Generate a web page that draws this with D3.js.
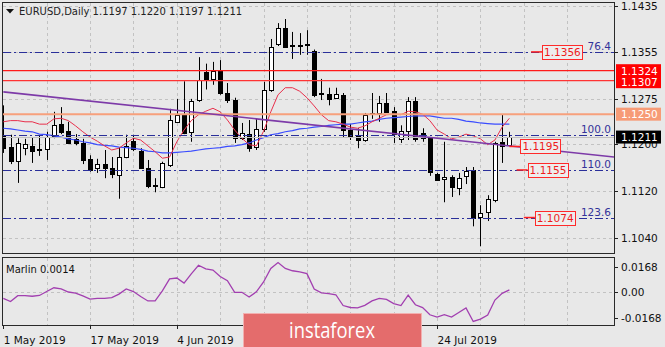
<!DOCTYPE html>
<html>
<head>
<meta charset="utf-8">
<script src="https://cdn.jsdelivr.net/npm/d3@7"></script>
<style>
  html, body { margin: 0; padding: 0; background: #e8e8e8; }
  svg { display: block; font-family: "DejaVu Sans", sans-serif; }
</style>
</head>
<body>
<svg id="chart" width="665" height="347"></svg>
<script>
// EURUSD daily bars, 1 May – 7 Aug 2019
const dates = [
  "2019-05-01","2019-05-02","2019-05-03","2019-05-06","2019-05-07","2019-05-08","2019-05-09","2019-05-10",
  "2019-05-13","2019-05-14","2019-05-15","2019-05-16","2019-05-17","2019-05-20","2019-05-21","2019-05-22",
  "2019-05-23","2019-05-24","2019-05-27","2019-05-28","2019-05-29","2019-05-30","2019-05-31",
  "2019-06-03","2019-06-04","2019-06-05","2019-06-06","2019-06-07","2019-06-10","2019-06-11","2019-06-12",
  "2019-06-13","2019-06-14","2019-06-17","2019-06-18","2019-06-19","2019-06-20","2019-06-21","2019-06-24",
  "2019-06-25","2019-06-26","2019-06-27","2019-06-28",
  "2019-07-01","2019-07-02","2019-07-03","2019-07-04","2019-07-05","2019-07-08","2019-07-09","2019-07-10",
  "2019-07-11","2019-07-12","2019-07-15","2019-07-16","2019-07-17","2019-07-18","2019-07-19","2019-07-22",
  "2019-07-23","2019-07-24","2019-07-25","2019-07-26","2019-07-29","2019-07-30","2019-07-31",
  "2019-08-01","2019-08-02","2019-08-05","2019-08-06","2019-08-07"
];
const open = [
  1.1215,1.1194,1.1170,1.1193,1.1196,1.1190,1.1191,1.1213,1.1233,1.1221,1.1208,1.1201,1.1174,1.1158,1.1165,1.1158,
  1.1146,1.1177,1.1204,1.1187,1.1158,1.1130,1.1126,1.1163,1.1237,1.1249,1.1220,1.1274,1.1322,1.1310,1.1325,
  1.1286,1.1274,1.1209,1.1216,1.1194,1.1225,1.1291,1.1369,1.1397,1.1366,1.1368,1.1368,
  1.1358,1.1285,1.1284,1.1277,1.1283,1.1223,1.1213,1.1206,1.1251,1.1252,1.1269,1.1255,1.1208,1.1221,1.1272,1.1218,
  1.1209,1.1148,1.1140,1.1143,1.1124,1.1145,1.1155,1.1075,1.1084,1.1103,1.1202,1.1197
];
const high = [
  1.1265,1.1215,1.1209,1.1208,1.1211,1.1213,1.1220,1.1254,1.1262,1.1237,1.1216,1.1208,1.1180,1.1174,1.1189,1.1177,
  1.1194,1.1215,1.1215,1.1192,1.1172,1.1141,1.1169,1.1259,1.1276,1.1306,1.1276,1.1347,1.1336,1.1339,1.1342,
  1.1303,1.1278,1.1235,1.1240,1.1243,1.1305,1.1378,1.1405,1.1412,1.1390,1.1388,1.1393,
  1.1360,1.1310,1.1295,1.1295,1.1286,1.1233,1.1226,1.1252,1.1286,1.1281,1.1286,1.1262,1.1231,1.1279,1.1279,1.1226,
  1.1211,1.1150,1.1203,1.1146,1.1150,1.1160,1.1160,1.1095,1.1112,1.1203,1.1249,1.1220
];
const low = [
  1.1184,1.1165,1.1133,1.1180,1.1167,1.1179,1.1172,1.1209,1.1216,1.1199,1.1197,1.1165,1.1152,1.1150,1.1141,1.1141,
  1.1106,1.1175,1.1187,1.1157,1.1124,1.1117,1.1124,1.1160,1.1235,1.1216,1.1203,1.1271,1.1292,1.1300,1.1283,
  1.1269,1.1201,1.1206,1.1186,1.1189,1.1220,1.1288,1.1366,1.1363,1.1344,1.1351,1.1351,
  1.1279,1.1274,1.1265,1.1276,1.1211,1.1206,1.1192,1.1203,1.1242,1.1237,1.1252,1.1201,1.1201,1.1206,1.1203,1.1203,
  1.1145,1.1138,1.1100,1.1109,1.1112,1.1131,1.1059,1.1025,1.1068,1.1100,1.1167,1.1197
];
const close = [
  1.1192,1.1170,1.1201,1.1199,1.1187,1.1191,1.1211,1.1231,1.1220,1.1201,1.1201,1.1172,1.1155,1.1165,1.1158,1.1148,
  1.1177,1.1196,1.1191,1.1158,1.1128,1.1129,1.1167,1.1240,1.1249,1.1218,1.1272,1.1308,1.1308,1.1324,1.1286,
  1.1274,1.1209,1.1218,1.1192,1.1225,1.1291,1.1364,1.1397,1.1364,1.1368,1.1368,1.1370,
  1.1283,1.1286,1.1276,1.1284,1.1223,1.1211,1.1206,1.1249,1.1252,1.1269,1.1254,1.1216,1.1221,1.1272,1.1208,1.1209,
  1.1152,1.1138,1.1143,1.1126,1.1141,1.1153,1.1073,1.1082,1.1106,1.1201,1.1196,1.1211
];

// Fast (red) and slow (blue) moving averages
const maFast = [
  1.1237,1.1239,1.1239,1.1237,1.1237,1.1233,1.1233,1.1242,1.1243,1.1239,1.1230,1.1220,1.1211,1.1204,1.1196,1.1189,
  1.1192,1.1201,1.1209,1.1206,1.1196,1.1186,1.1175,1.1177,1.1203,1.1223,1.1239,1.1249,1.1255,1.1260,1.1254,
  1.1240,1.1223,1.1209,1.1198,1.1196,1.1221,1.1254,1.1283,1.1295,1.1295,1.1289,1.1278,
  1.1264,1.1249,1.1239,1.1237,1.1233,1.1228,1.1226,1.1230,1.1237,1.1243,1.1249,1.1250,1.1249,1.1255,1.1254,1.1250,
  1.1239,1.1223,1.1216,1.1208,1.1211,1.1216,1.1213,1.1208,1.1198,1.1206,1.1228,1.1243
];
const maSlow = [
  1.1226,1.1225,1.1223,1.1221,1.1220,1.1216,1.1215,1.1213,1.1211,1.1208,1.1206,1.1203,1.1201,1.1198,1.1197,1.1196,
  1.1194,1.1193,1.1192,1.1190,1.1187,1.1186,1.1184,1.1184,1.1185,1.1186,1.1187,1.1189,1.1191,1.1192,1.1193,
  1.1195,1.1196,1.1198,1.1201,1.1206,1.1210,1.1215,1.1217,1.1220,1.1222,1.1225,1.1226,
  1.1228,1.1229,1.1231,1.1232,1.1233,1.1233,1.1235,1.1237,1.1238,1.1241,1.1243,1.1244,1.1245,1.1246,1.1247,1.1247,
  1.1247,1.1245,1.1243,1.1243,1.1241,1.1238,1.1237,1.1235,1.1234,1.1233,1.1233,1.1233
];

// Marlin oscillator
const marlin = [
  -0.0042,-0.0063,-0.0024,-0.0024,-0.0028,-0.0023,0.0003,0.0028,0.0020,0.0000,-0.0007,-0.0026,-0.0047,-0.0042,-0.0042,-0.0037,
  -0.0014,0.0020,0.0003,-0.0030,-0.0059,-0.0058,0.0007,0.0086,0.0092,0.0059,0.0119,0.0176,0.0152,0.0145,0.0102,
  0.0074,-0.0003,-0.0002,-0.0033,0.0001,0.0066,0.0155,0.0194,0.0155,0.0140,0.0132,0.0121,
  0.0020,-0.0006,-0.0011,-0.0018,-0.0089,-0.0102,-0.0105,-0.0088,-0.0059,-0.0042,-0.0049,-0.0076,-0.0089,-0.0020,-0.0084,-0.0103,
  -0.0150,-0.0165,-0.0149,-0.0165,-0.0135,-0.0105,-0.0194,-0.0179,-0.0152,-0.0053,-0.0009,0.0014
];

// Descending trend line anchors (bar index, price)
const trendBars = [0, 70];
const trendPrices = [1.1288, 1.1196];

// Horizontal levels
const levelPrices = [1.1324, 1.1307, 1.1250];
const levelColors = ["#ff1a1a", "#ff3333", "#f7a07c"];

// Fibonacci expansion levels
const fibNames = ["76.4", "100.0", "110.0", "123.6"];
const fibPrices = [1.1356, 1.1215, 1.1155, 1.1074];

// Price callouts
const markPrices = [1.1356, 1.1195, 1.1155, 1.1074];
const markBars = [73, 70, 71, 72];

const bidPrice = 1.1211;
const priceTicks = [1.1435, 1.1355, 1.1275, 1.1200, 1.1120, 1.1040];
const marlinTicks = [0.0168, 0, -0.0168];
const marlinTickText = ["0.0168", "0.00", "-0.0168"];
const labelDates = ["2019-05-01","2019-05-17","2019-06-04","2019-07-24"];

const svg = d3.select("#chart");
const W = 665, H = 347;
const L = 3, R = 614, mainTop = 3, mainBot = 253, subTop = 258, subBot = 325;

svg.append("rect").attr("width", W).attr("height", H).attr("fill", "#e8e8e8");

const x = d3.scaleLinear().domain([0, 84.47]).range([3.3, R]);
const y = d3.scaleLinear().domain([1.1435, 1.1040]).range([5.5, 237.5]);
const ys = d3.scaleLinear().domain([0.0168, -0.0168]).range([266.5, 317.5]);
const px = v => Math.round(v) + 0.5;

const defs = svg.append("defs");
defs.append("clipPath").attr("id", "clipMain").append("rect")
  .attr("x", L).attr("y", mainTop).attr("width", R - L).attr("height", mainBot - mainTop);
defs.append("clipPath").attr("id", "clipSub").append("rect")
  .attr("x", L).attr("y", subTop).attr("width", R - L).attr("height", subBot - subTop);

const gridColor = "#c2c2c2";
const gridBars = d3.range(6, 84, 6);

// ---------- main panel ----------
const main = svg.append("g").attr("clip-path", "url(#clipMain)");

main.selectAll("line.vg").data(gridBars).join("line")
  .attr("x1", d => px(x(d))).attr("x2", d => px(x(d)))
  .attr("y1", mainTop).attr("y2", mainBot)
  .attr("stroke", gridColor).attr("stroke-dasharray", "3,3");
main.selectAll("line.hg").data(priceTicks).join("line")
  .attr("x1", L).attr("x2", R)
  .attr("y1", d => px(y(d))).attr("y2", d => px(y(d)))
  .attr("stroke", gridColor).attr("stroke-dasharray", "3,3");

// candles
const bars = d3.range(dates.length);
const cg = main.append("g");
cg.selectAll("line.wick").data(bars).join("line")
  .attr("x1", i => px(x(i))).attr("x2", i => px(x(i)))
  .attr("y1", i => y(high[i])).attr("y2", i => y(low[i]))
  .attr("stroke", "#000").attr("stroke-width", 1);
cg.selectAll("rect.body").data(bars).join("rect")
  .attr("x", i => Math.round(x(i)) - 2 + 0.5)
  .attr("width", 4)
  .attr("y", i => Math.round(y(Math.max(open[i], close[i]))) + 0.5)
  .attr("height", i => Math.max(1, Math.round(y(Math.min(open[i], close[i]))) - Math.round(y(Math.max(open[i], close[i])))))
  .attr("fill", i => close[i] >= open[i] ? "#ffffff" : "#000000")
  .attr("stroke", "#000").attr("stroke-width", 1);

// moving averages
const lineGen = arr => d3.line().x((d, i) => x(i)).y(d => y(d))(arr);
main.append("path").attr("d", lineGen(maSlow)).attr("fill", "none")
  .attr("stroke", "#3a4cff").attr("stroke-width", 1.2);
main.append("path").attr("d", lineGen(maFast)).attr("fill", "none")
  .attr("stroke", "#e8304c").attr("stroke-width", 1);

// bid line
main.append("line").attr("x1", L).attr("x2", R)
  .attr("y1", px(y(bidPrice))).attr("y2", px(y(bidPrice)))
  .attr("stroke", "#c0c0c0");

// fibonacci levels
main.selectAll("line.fib").data(fibPrices).join("line")
  .attr("x1", L).attr("x2", R)
  .attr("y1", d => px(y(d))).attr("y2", d => px(y(d)))
  .attr("stroke", "#2a2f9a").attr("stroke-width", 1)
  .attr("stroke-dasharray", "8,3,2,3");
main.selectAll("text.fib").data(fibNames).join("text")
  .attr("x", 611).attr("y", (d, i) => y(fibPrices[i]) - 2)
  .attr("text-anchor", "end").attr("font-size", 10.5).attr("fill", "#33339a")
  .text(d => d);

// horizontal levels
main.selectAll("line.lvl").data(levelPrices).join("line")
  .attr("x1", L).attr("x2", R)
  .attr("y1", d => y(d)).attr("y2", d => y(d))
  .attr("stroke", (d, i) => levelColors[i])
  .attr("stroke-width", (d, i) => i === 2 ? 2 : 1.3);

// trend line, extended to the right edge
const slope = (trendPrices[1] - trendPrices[0]) / (trendBars[1] - trendBars[0]);
const tEnd = x.domain()[1];
main.append("line")
  .attr("x1", x(trendBars[0])).attr("y1", y(trendPrices[0]))
  .attr("x2", x(tEnd)).attr("y2", y(trendPrices[0] + slope * (tEnd - trendBars[0])))
  .attr("stroke", "#7d3aa8").attr("stroke-width", 1.6);

// price callouts
const mg = main.append("g");
markPrices.forEach((p, k) => {
  const x0 = x(markBars[k]);
  const yy = y(p);
  mg.append("line").attr("x1", x0).attr("x2", x0 + 11).attr("y1", yy).attr("y2", yy)
    .attr("stroke", "#ff2020").attr("stroke-width", 1.5);
  const t = mg.append("text").attr("x", x0 + 13).attr("y", yy + 4)
    .attr("font-size", 10.5).attr("fill", "#ee1c1c").text(p.toFixed(4));
  const bb = t.node().getBBox();
  mg.insert("rect", "text")
    .attr("x", Math.round(bb.x - 2) + 0.5).attr("y", Math.round(yy - 7) + 0.5)
    .attr("width", Math.round(bb.width + 3)).attr("height", 14)
    .attr("fill", "#ededed").attr("stroke", "#ff2a2a");
});

// panel border
svg.append("rect").attr("x", L - 0.5).attr("y", mainTop - 0.5)
  .attr("width", R - L + 1).attr("height", mainBot - mainTop + 1)
  .attr("fill", "none").attr("stroke", "#2a2a2a");

// title
svg.append("path").attr("d", "M6,9 L14,9 L10,13.5 Z").attr("fill", "#111");
svg.append("text").attr("x", 19).attr("y", 15).attr("font-size", 10).attr("fill", "#222")
  .text("EURUSD,Daily  1.1197 1.1220 1.1197 1.1211");

// right price axis
const ax = svg.append("g");
ax.selectAll("line.tk").data(priceTicks).join("line")
  .attr("x1", R).attr("x2", R + 4)
  .attr("y1", d => px(y(d))).attr("y2", d => px(y(d))).attr("stroke", "#222");
ax.selectAll("text.tk").data(priceTicks).join("text")
  .attr("x", 621).attr("y", d => y(d) + 4)
  .attr("font-size", 10.5).attr("fill", "#111")
  .text(d => d.toFixed(4));

// highlighted price tags
const tagPrices = [levelPrices[1], levelPrices[0], levelPrices[2], bidPrice];
const tagFills = ["#ff0000", "#ff0000", "#f79b76", "#000000"];
tagPrices.forEach((p, k) => {
  let yy = y(p);
  if (k === 0) yy += 1; // keep the two red tags stacked
  ax.append("rect").attr("x", 616).attr("y", yy - 6.5).attr("width", 45).attr("height", 13)
    .attr("fill", tagFills[k]);
  ax.append("text").attr("x", 621).attr("y", yy + 4)
    .attr("font-size", 10.5).attr("fill", "#ffffff").text(p.toFixed(4));
});

// ---------- Marlin sub panel ----------
const sub = svg.append("g").attr("clip-path", "url(#clipSub)");
sub.selectAll("line.vg").data(gridBars).join("line")
  .attr("x1", d => px(x(d))).attr("x2", d => px(x(d)))
  .attr("y1", subTop).attr("y2", subBot)
  .attr("stroke", gridColor).attr("stroke-dasharray", "3,3");
sub.append("line").attr("x1", L).attr("x2", R)
  .attr("y1", px(ys(0))).attr("y2", px(ys(0)))
  .attr("stroke", gridColor).attr("stroke-dasharray", "3,3");
sub.append("path")
  .attr("d", d3.line().x((d, i) => x(i)).y(d => ys(d))(marlin))
  .attr("fill", "none").attr("stroke", "#a23fb0").attr("stroke-width", 1.3);

svg.append("rect").attr("x", L - 0.5).attr("y", subTop - 0.5)
  .attr("width", R - L + 1).attr("height", subBot - subTop + 1)
  .attr("fill", "none").attr("stroke", "#2a2a2a");
svg.append("text").attr("x", 6).attr("y", 273).attr("font-size", 10).attr("fill", "#111")
  .text("Marlin " + marlin[marlin.length - 1].toFixed(4));

ax.selectAll("line.mtk").data(marlinTicks).join("line")
  .attr("x1", R).attr("x2", R + 4)
  .attr("y1", d => px(ys(d))).attr("y2", d => px(ys(d))).attr("stroke", "#222");
ax.selectAll("text.mtk").data(marlinTicks).join("text")
  .attr("x", 621).attr("y", d => ys(d) + 4)
  .attr("font-size", 10.5).attr("fill", "#111")
  .text((d, i) => marlinTickText[i]);

// ---------- time axis ----------
const fmt = d3.timeFormat("%-d %b %Y");
const parse = d3.timeParse("%Y-%m-%d");
const tg = svg.append("g");
labelDates.forEach(ds => {
  const i = dates.indexOf(ds);
  const xx = px(x(i));
  tg.append("line").attr("x1", xx).attr("x2", xx).attr("y1", subBot).attr("y2", subBot + 4)
    .attr("stroke", "#222");
  tg.append("text").attr("x", x(i) + 0.5).attr("y", 344).attr("font-size", 10.5).attr("fill", "#111")
    .text(fmt(parse(ds)));
});

// watermark
svg.append("rect").attr("x", 243.5).attr("y", 313.5).attr("width", 178).attr("height", 40)
  .attr("fill", "#e46c6c").attr("stroke", "#f2b0b0");
svg.append("text").attr("x", 332).attr("y", 338).attr("text-anchor", "middle")
  .attr("font-family", "'Open Sans', sans-serif").attr("font-size", 21).attr("fill", "#ffffff")
  .attr("textLength", 86).attr("lengthAdjust", "spacingAndGlyphs")
  .text("instaforex");
</script>
</body>
</html>
